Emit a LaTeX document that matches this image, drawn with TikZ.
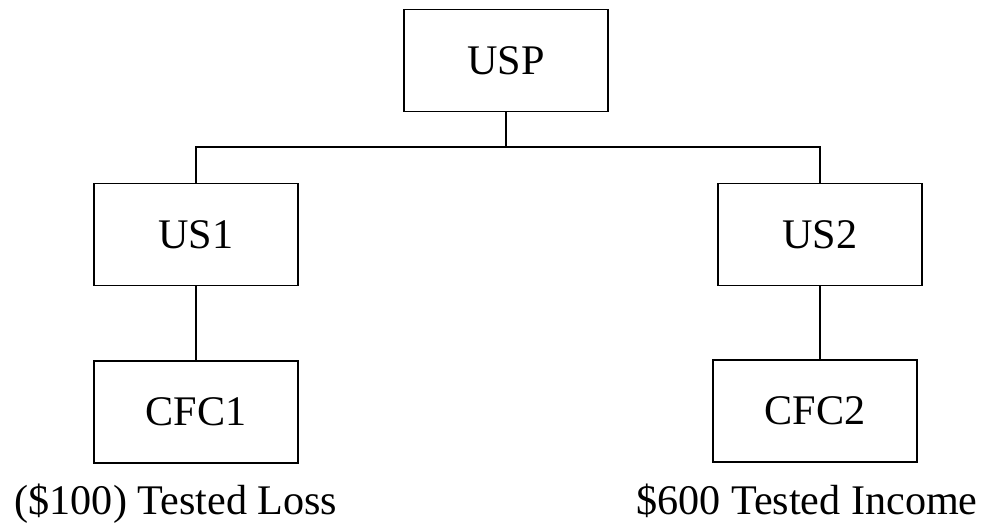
\documentclass[tikz,border=0pt]{standalone}
\usepackage{fontspec}
\setmainfont{Liberation Serif}
\usetikzlibrary{positioning}
\tikzset{
    entity/.style={draw, line width=1.1pt, minimum width=4.08cm, minimum height=2.04cm, inner sep=0pt, font=\fontsize{24}{28}\selectfont},
    tag/.style={inner sep=0pt, anchor=base, font=\fontsize{24}{28}\selectfont},
    link/.style={line width=1.1pt}
}
\begin{document}
\begin{tikzpicture}[x=0.02cm, y=-0.02cm]
        % Fix the page to the reference size
        \useasboundingbox (0,0) rectangle (986,523);
        % Parent and subsidiaries
        \node[entity] (usp) at (506,60.5) {USP};
        \node[entity] (us1) at (196,234.5) {US1};
        \node[entity] (us2) at (820,234.5) {US2};
        \node[entity] (cfc1) at (196,412) {CFC1};
        \node[entity] (cfc2) at (815,411) {CFC2};
        % Income labels under the CFCs
        \node[tag] (loss) at (176,514) {(\$100) Tested Loss};
        \node[tag] (income) at (807,514) {\$600 Tested Income};
        % Draw the ownership lines
        \coordinate (bar) at (506,147);
        \draw[link] (usp.south) -- (bar);
        \draw[link] (us1.north) |- (bar) -| (us2.north);
        \draw[link] (us1.south) -- (cfc1.north);
        \draw[link] (us2.south) -- (us2.south |- cfc2.north);
    \end{tikzpicture}
\end{document}
